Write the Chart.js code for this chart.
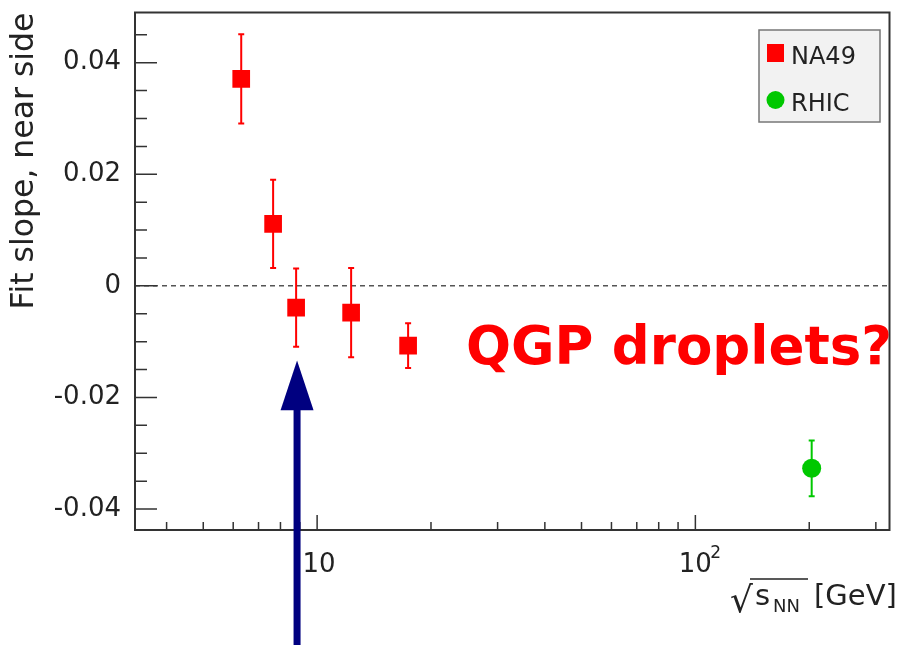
<!DOCTYPE html>
<html>
<head>
<meta charset="utf-8">
<script src="https://cdn.jsdelivr.net/npm/chart.js@4.4.1/dist/chart.umd.min.js"></script>
<style>
  body { margin: 0; background: #fff; }
  #wrap { width: 902px; height: 645px; }
</style>
</head>
<body>
<div id="wrap"><canvas id="chart" width="902" height="645"></canvas></div>
<script>
// values
const na49Energy = [6.3, 7.65, 8.8, 12.3, 17.4];
const na49Slope = [0.0371, 0.0111, -0.0039, -0.0048, -0.0107];
const na49Err = [0.0080, 0.0079, 0.0070, 0.0080, 0.0040];

const rhicEnergy = [203];
const rhicSlope = [-0.0327];
const rhicErr = [0.0050];

const yMajorTicks = [-0.04, -0.02, 0, 0.02, 0.04];
const yTickLabels = ['-0.04', '-0.02', '0', '0.02', '0.04'];
const yMinorTicks = [-0.035, -0.03, -0.025, -0.015, -0.01, -0.005, 0.005, 0.01, 0.015,
                     0.025, 0.03, 0.035, 0.045];
const xMajorTicks = [10, 100];
const xMinorTicks = [4, 5, 6, 7, 8, 9, 20, 30, 40, 50, 60, 70, 80, 90, 200, 300];

// arrow pointing at the 30A GeV point
const arrowX = 8.85;
const arrowTip = -0.0134;
const arrowHeadBase = -0.0223;

const FONT = "'DejaVu Sans', Verdana, sans-serif";
const RED = '#ff0000';
const GREEN = '#00c800';

function toPoints(xs, ys) {
    return xs.map((x, i) => ({ x: x, y: ys[i] }));
}

const rootStyle = {
    id: 'rootStyle',
    beforeDatasetsDraw(chart) {
        const ctx = chart.ctx;
        const xs = chart.scales.x, ys = chart.scales.y;
        const a = chart.chartArea;

        // dashed zero line
        ctx.save();
        ctx.strokeStyle = '#555';
        ctx.lineWidth = 1.5;
        ctx.setLineDash([5, 4]);
        ctx.beginPath();
        ctx.moveTo(a.left, ys.getPixelForValue(0));
        ctx.lineTo(a.right, ys.getPixelForValue(0));
        ctx.stroke();
        ctx.restore();

        // error bars
        const bars = [
            [na49Energy, na49Slope, na49Err, RED],
            [rhicEnergy, rhicSlope, rhicErr, GREEN]
        ];
        ctx.save();
        bars.forEach(([ex, ey, ee, col]) => {
            ctx.strokeStyle = col;
            ctx.lineWidth = 2;
            ex.forEach((e, i) => {
                const px = xs.getPixelForValue(e);
                const top = ys.getPixelForValue(ey[i] + ee[i]);
                const bot = ys.getPixelForValue(ey[i] - ee[i]);
                ctx.beginPath();
                ctx.moveTo(px, top);
                ctx.lineTo(px, bot);
                ctx.moveTo(px - 3, top);
                ctx.lineTo(px + 3, top);
                ctx.moveTo(px - 3, bot);
                ctx.lineTo(px + 3, bot);
                ctx.stroke();
            });
        });
        ctx.restore();
    },
    afterDatasetsDraw(chart) {
        const ctx = chart.ctx;
        const xs = chart.scales.x, ys = chart.scales.y;
        const a = chart.chartArea;
        ctx.save();

        // frame
        ctx.strokeStyle = '#333';
        ctx.lineWidth = 2;
        ctx.strokeRect(a.left, a.top, a.right - a.left, a.bottom - a.top);

        // ticks (inside the frame, ROOT style)
        ctx.lineWidth = 1.5;
        ctx.beginPath();
        yMajorTicks.forEach(v => {
            const py = ys.getPixelForValue(v);
            ctx.moveTo(a.left, py);
            ctx.lineTo(a.left + 22, py);
        });
        yMinorTicks.forEach(v => {
            const py = ys.getPixelForValue(v);
            ctx.moveTo(a.left, py);
            ctx.lineTo(a.left + 12, py);
        });
        xMajorTicks.forEach(v => {
            const px = xs.getPixelForValue(v);
            ctx.moveTo(px, a.bottom);
            ctx.lineTo(px, a.bottom - 15);
        });
        xMinorTicks.forEach(v => {
            const px = xs.getPixelForValue(v);
            ctx.moveTo(px, a.bottom);
            ctx.lineTo(px, a.bottom - 8);
        });
        ctx.stroke();

        // tick labels
        ctx.fillStyle = '#222';
        ctx.font = '26px ' + FONT;
        ctx.textAlign = 'right';
        ctx.textBaseline = 'middle';
        yMajorTicks.forEach((v, i) => {
            ctx.fillText(yTickLabels[i], a.left - 14, ys.getPixelForValue(v));
        });
        ctx.textAlign = 'center';
        ctx.textBaseline = 'alphabetic';
        const p10 = xs.getPixelForValue(10);
        ctx.fillText('10', p10 + 2, a.bottom + 42);
        const p100 = xs.getPixelForValue(100);
        ctx.fillText('10', p100, a.bottom + 42);
        ctx.font = '17px ' + FONT;
        ctx.textAlign = 'left';
        ctx.fillText('2', p100 + 15, a.bottom + 28);

        // y title
        ctx.save();
        ctx.translate(25, a.top);
        ctx.rotate(-Math.PI / 2);
        ctx.font = '31.5px ' + FONT;
        ctx.textAlign = 'right';
        ctx.textBaseline = 'middle';
        ctx.fillStyle = '#222';
        ctx.fillText('Fit slope, near side', 0, 0);
        ctx.restore();

        // x title: sqrt(s_NN) [GeV]
        const base = 605;
        ctx.fillStyle = '#222';
        ctx.textAlign = 'left';
        ctx.font = '36px ' + FONT;
        ctx.fillText('√', 730, base + 7);
        ctx.font = '29px ' + FONT;
        ctx.fillText('s', 755, base);
        ctx.font = '18px ' + FONT;
        ctx.fillText('NN', 773, base + 7);
        ctx.font = '29px ' + FONT;
        ctx.fillText('[GeV]', 814, base);
        ctx.strokeStyle = '#222';
        ctx.lineWidth = 1.5;
        ctx.beginPath();
        ctx.moveTo(750, 579);
        ctx.lineTo(808, 579);
        ctx.stroke();

        // legend
        ctx.fillStyle = '#f2f2f2';
        ctx.fillRect(759, 30, 121, 92);
        ctx.strokeStyle = '#777';
        ctx.lineWidth = 1.5;
        ctx.strokeRect(759, 30, 121, 92);
        ctx.fillStyle = RED;
        ctx.fillRect(767, 44, 17, 18);
        ctx.fillStyle = GREEN;
        ctx.beginPath();
        ctx.arc(775.5, 100, 9, 0, Math.PI * 2);
        ctx.fill();
        ctx.fillStyle = '#222';
        ctx.font = '24px ' + FONT;
        ctx.fillText(chart.data.datasets[0].label, 791, 64);
        ctx.fillText(chart.data.datasets[1].label, 791, 111);

        // annotation text
        ctx.fillStyle = RED;
        ctx.font = 'bold 53px ' + FONT;
        ctx.fillText('QGP droplets?', 466, 364);

        // arrow
        const ax = xs.getPixelForValue(arrowX);
        const tip = ys.getPixelForValue(arrowTip);
        const hb = ys.getPixelForValue(arrowHeadBase);
        ctx.fillStyle = '#000080';
        ctx.fillRect(ax - 3.5, hb - 1, 7, chart.height - hb + 1);
        ctx.beginPath();
        ctx.moveTo(ax, tip);
        ctx.lineTo(ax - 16.5, hb);
        ctx.lineTo(ax + 16.5, hb);
        ctx.closePath();
        ctx.fill();

        ctx.restore();
    }
};

new Chart(document.getElementById('chart'), {
    type: 'scatter',
    data: {
        datasets: [
            {
                label: 'NA49',
                data: toPoints(na49Energy, na49Slope),
                pointStyle: 'rect',
                pointRadius: 12.5,
                backgroundColor: RED,
                borderWidth: 0
            },
            {
                label: 'RHIC',
                data: toPoints(rhicEnergy, rhicSlope),
                pointStyle: 'circle',
                pointRadius: 9.5,
                backgroundColor: GREEN,
                borderWidth: 0
            }
        ]
    },
    options: {
        responsive: false,
        animation: false,
        layout: { padding: { left: 135, right: 9, top: 12, bottom: 115 } },
        plugins: {
            legend: { display: false },
            tooltip: { enabled: false }
        },
        scales: {
            x: { type: 'logarithmic', min: 3.3, max: 326, display: false },
            y: { type: 'linear', min: -0.04376, max: 0.049, display: false }
        }
    },
    plugins: [rootStyle]
});
</script>
</body>
</html>
